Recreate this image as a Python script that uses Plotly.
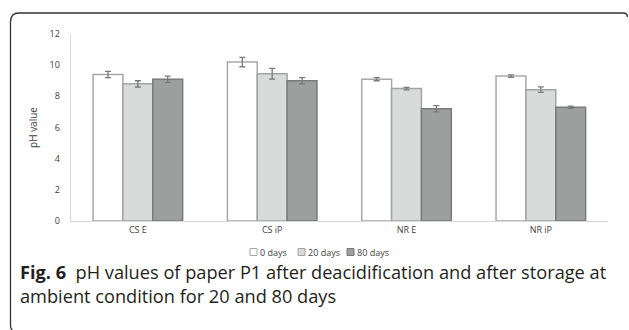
import plotly.graph_objects as go

# pH of paper P1 per treatment, after deacidification and after storage
categories = ["CS E", "CS iP", "NR E", "NR iP"]
series_names = ["0 days", "20 days", "80 days"]
ph_0 = [9.4, 10.2, 9.1, 9.3]
ph_20 = [8.8, 9.45, 8.5, 8.43]
ph_80 = [9.1, 9.0, 7.2, 7.3]
err_0 = [0.2, 0.3, 0.1, 0.08]
err_20 = [0.2, 0.35, 0.08, 0.18]
err_80 = [0.2, 0.2, 0.2, 0.07]
y_ticks = [0, 2, 4, 6, 8, 10, 12]

W, H = 629, 330


def px(x):
    return x / W


def py(y):
    return 1 - y / H


fills = ["#ffffff", "#d9dbda", "#9d9f9e"]
edges = ["#a8a8a8", "#a3a3a3", "#7a7a7a"]

fig = go.Figure()
for name, vals, errs, fc, ec in zip(series_names, [ph_0, ph_20, ph_80],
                                    [err_0, err_20, err_80], fills, edges):
    fig.add_trace(go.Bar(
        x=categories, y=vals, name=name,
        marker=dict(color=fc, line=dict(color=ec, width=1.5)),
        error_y=dict(type="data", array=errs, visible=True,
                     color="#7a7a7a", thickness=1.3, width=3),
        showlegend=False,
    ))

chart_font = "Open Sans"
fig.update_layout(
    width=W, height=H, autosize=False,
    margin=dict(l=0, r=0, t=0, b=0, autoexpand=False),
    paper_bgcolor="white", plot_bgcolor="white",
    barmode="group", bargap=1/3, bargroupgap=0,
    font=dict(family=chart_font, color="#404040"),
    xaxis=dict(domain=[px(70.7), px(608)], showline=True, linecolor="#d9d9d9",
               linewidth=1, ticks="", showgrid=False, automargin=False,
               tickfont=dict(size=9, color="#404040")),
    yaxis=dict(domain=[py(221), py(34)], range=[0, 12], tickvals=y_ticks,
               showline=True, linecolor="#d9d9d9", linewidth=1, ticks="",
               showgrid=False, zeroline=False, ticklabelstandoff=8,
               automargin=False,
               tickfont=dict(size=9, color="#404040"),
               title=dict(text="pH value", font=dict(size=10, color="#404040"),
                          standoff=10)),
)

# legend drawn as small swatches with labels
legend_x = [250, 298, 347]
legend_y = 252
sq = 7
for name, lx, fc, ec in zip(series_names, legend_x, fills, edges):
    fig.add_shape(type="rect", xref="paper", yref="paper",
                  x0=px(lx), x1=px(lx + sq),
                  y0=py(legend_y + sq / 2), y1=py(legend_y - sq / 2),
                  line=dict(color=ec, width=1), fillcolor=fc)
    fig.add_annotation(xref="paper", yref="paper", x=px(lx + sq + 1.5), y=py(legend_y),
                       text=name, showarrow=False, xanchor="left", yanchor="middle",
                       borderpad=0,
                       font=dict(size=9, color="#404040", family=chart_font))

# rounded frame around the figure
frame = (f"M {px(627.5)} {py(17)} Q {px(627.5)} {py(13)} {px(623)} {py(13)} "
         f"L {px(19)} {py(13)} Q {px(10.5)} {py(13)} {px(10.5)} {py(22)} "
         f"L {px(10.5)} {py(326)} Q {px(10.5)} {py(329)} {px(12.5)} {py(330)}")
fig.add_shape(type="path", path=frame, xref="paper", yref="paper",
              line=dict(color="#333333", width=1.3))

# caption (two lines in one text block)
cap_font = dict(family="Open Sans", size=18.2, color="#231f20")
fig.add_annotation(xref="paper", yref="paper", x=px(19), y=py(284),
                   text=("<b>Fig. 6</b>\u00a0\u00a0pH values of paper P1 after deacidification "
                         "and after storage at<br>ambient condition for 20 and 80 days"),
                   showarrow=False, xanchor="left", yanchor="middle", align="left",
                   borderpad=0, font=cap_font)

fig.write_html("out.html")
